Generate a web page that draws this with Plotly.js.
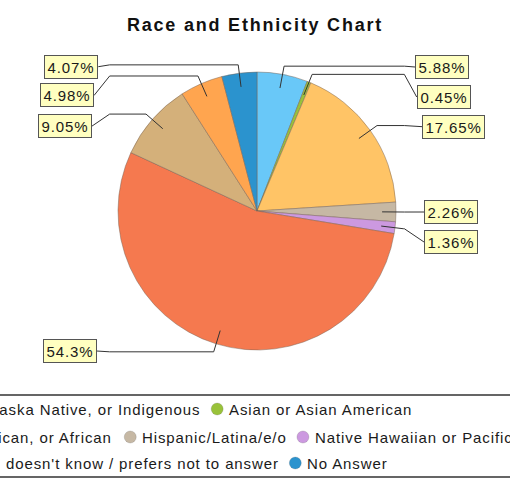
<!DOCTYPE html>
<html>
<head>
<meta charset="utf-8">
<script src="https://cdn.plot.ly/plotly-3.0.1.min.js"></script>
<style>
  html, body { margin: 0; padding: 0; background: #ffffff; overflow: hidden; }
  #chart { width: 510px; height: 493px; }
  svg text { letter-spacing: 0.9px; }
  .gtitle { letter-spacing: 1.8px !important; }
</style>
</head>
<body>
<div id="chart"></div>
<script>
// ---------------- data ----------------
const categories = [
  "American Indian, Alaska Native, or Indigenous",
  "Asian or Asian American",
  "Black, African American, or African",
  "Hispanic/Latina/e/o",
  "Native Hawaiian or Pacific Islander",
  "White",
  "Multiracial",
  "Person doesn't know / prefers not to answer",
  "No Answer"
];
const values = [5.88, 0.45, 17.65, 2.26, 1.36, 54.3, 9.05, 4.98, 4.07];
const percentLabels = values.map(v => v + "%");

// ---------------- styles ----------------
const colors = ["#69c8f8", "#99c23a", "#ffc466", "#c6b8a4", "#cc99e0",
                "#f5794f", "#d4b07a", "#ffa54f", "#2b93ce"];
const FONT = '"Liberation Sans", Arial, Helvetica, sans-serif';
const LS = 0.9; // letter spacing px

// ---------------- layout (pixel positions) ----------------
const W = 510, H = 493;
const PIE_CX = 257, PIE_CY = 211, PIE_R = 139;
// label boxes: edge x nearest the pie and vertical centre, per slice
const labelEdgeX   = [415, 416.7, 422.3, 424, 424, 96.7, 91.7, 94, 98.3];
const labelCenterY = [67, 97, 126.7, 212, 242, 351, 126.3, 95.5, 66.7];
const ANCHOR_F = 0.9, ELBOW_F = 1.06;
// legend
const legendRows = [[0, 1], [2, 3, 4, 5], [6, 7, 8]];
const rowTextX = [-147, -149, -157];
const rowY = [409, 437, 463];
const legendTop = 395, legendBottom = 477;

const gd = document.getElementById("chart");
const fx = px => px / W;
const fy = py => 1 - py / H;

const layout = {
  width: W, height: H,
  margin: {l: 0, r: 0, t: 0, b: 0},
  paper_bgcolor: "#ffffff",
  showlegend: false,
  title: {
    text: "Race and Ethnicity Chart",
    font: {family: FONT, size: 18, color: "#111111", weight: "bold"},
    x: 0.5, xanchor: "center", xref: "paper",
    y: 1 - 24.5 / H, yanchor: "middle", yref: "container"
  }
};

const trace = {
  type: "pie",
  labels: categories,
  values: values,
  sort: false,
  direction: "clockwise",
  rotation: 0,
  textinfo: "none",
  hoverinfo: "label+percent",
  showlegend: false,
  marker: {colors: colors, line: {color: "rgba(120,100,85,0.6)", width: 0.8}},
  domain: {
    x: [(PIE_CX - PIE_R) / W, (PIE_CX + PIE_R) / W],
    y: [1 - (PIE_CY + PIE_R) / H, 1 - (PIE_CY - PIE_R) / H]
  }
};

Plotly.newPlot(gd, [trace], layout, {displayModeBar: false, staticPlot: true}).then(() => {
  const cd = gd.calcdata[0];
  const cd0 = cd[0];
  const cx = (cd0.cx !== undefined) ? cd0.cx : PIE_CX;
  const cy = (cd0.cy !== undefined) ? cd0.cy : PIE_CY;
  const r = cd0.r || PIE_R;
  const total = values.reduce((a, b) => a + b, 0);

  const shapes = [];
  const annotations = [];
  let cum = 0;
  cd.forEach((pt, k) => {
    const i = (pt.i !== undefined) ? pt.i : k;
    let ux, uy;
    if (pt.pxmid) { ux = pt.pxmid[0] / r; uy = pt.pxmid[1] / r; }
    else {
      const a = 2 * Math.PI * (cum + values[i] / 2) / total;
      ux = Math.sin(a); uy = -Math.cos(a);
    }
    cum += values[i];
    const right = ux >= 0;
    const ax = cx + ANCHOR_F * r * ux, ay = cy + ANCHOR_F * r * uy;
    const ex = cx + ELBOW_F * r * ux, ey = cy + ELBOW_F * r * uy;
    const tx = cx + (right ? 1 : -1) * ELBOW_F * r;
    const bx = labelEdgeX[i], by = labelCenterY[i];
    const path = "M" + fx(ax) + "," + fy(ay) +
                 " L" + fx(ex) + "," + fy(ey) +
                 " L" + fx(tx) + "," + fy(ey) +
                 " L" + fx(bx) + "," + fy(by);
    shapes.push({type: "path", xref: "paper", yref: "paper", path: path,
                 line: {color: "#333333", width: 1}, layer: "above"});
    annotations.push({
      xref: "paper", yref: "paper", x: fx(bx), y: fy(by),
      xanchor: right ? "left" : "right", yanchor: "middle",
      text: percentLabels[i], showarrow: false,
      font: {family: FONT, size: 15, color: "#1a1a1a"},
      bgcolor: "#ffffc0", bordercolor: "#555555", borderwidth: 1, borderpad: 2.5
    });
  });

  // legend frame
  shapes.push({type: "rect", xref: "paper", yref: "paper",
               x0: fx(-200), x1: fx(W + 200), y0: fy(legendBottom), y1: fy(legendTop),
               line: {color: "#333333", width: 1.5}, fillcolor: "rgba(0,0,0,0)", layer: "above"});

  // legend entries
  const ctx = document.createElement("canvas").getContext("2d");
  ctx.font = "15px " + FONT;
  const hasLS = ("letterSpacing" in ctx);
  if (hasLS) ctx.letterSpacing = LS + "px";
  const textW = s => ctx.measureText(s).width + (hasLS ? 0 : LS * s.length);

  legendRows.forEach((row, ri) => {
    let x = rowTextX[ri];
    const y = rowY[ri];
    row.forEach(i => {
      const mcx = x - 12;
      shapes.push({type: "circle", xref: "paper", yref: "paper",
                   x0: fx(mcx - 6), x1: fx(mcx + 6), y0: fy(y + 6), y1: fy(y - 6),
                   fillcolor: colors[i], line: {width: 0.6, color: "rgba(90,90,90,0.35)"}, layer: "above"});
      annotations.push({
        xref: "paper", yref: "paper", x: fx(x), y: fy(y),
        xanchor: "left", yanchor: "middle", showarrow: false,
        text: categories[i], font: {family: FONT, size: 15, color: "#1a1a1a"},
        borderpad: 0, borderwidth: 0
      });
      x += textW(categories[i]) + 16 + 12;
    });
  });

  return Plotly.relayout(gd, {shapes: shapes, annotations: annotations});
});
</script>
</body>
</html>
